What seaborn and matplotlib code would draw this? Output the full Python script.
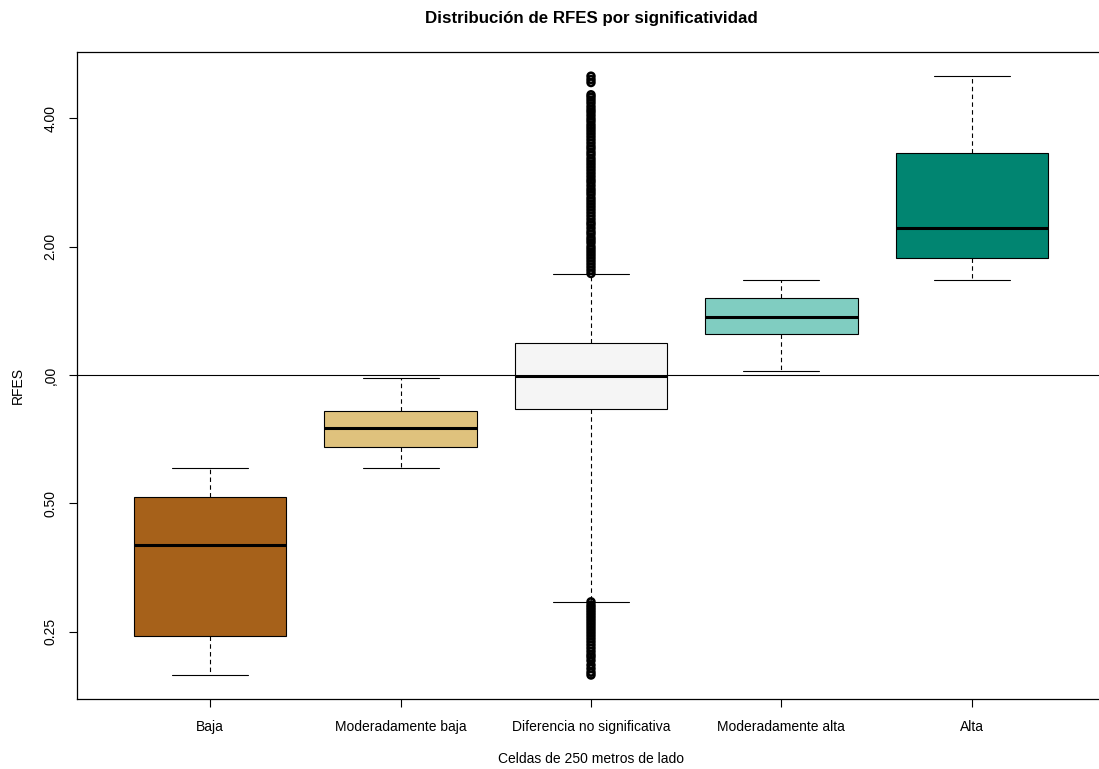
import matplotlib
matplotlib.use("Agg")
import matplotlib.pyplot as plt
import numpy as np
import seaborn as sns

# Box summaries (RFES) per significance class
categories = ["Baja", "Moderadamente baja", "Diferencia no significativa",
              "Moderadamente alta", "Alta"]
whisker_low = [0.198, 0.606, 0.294, 1.020, 1.666]
q1 = [0.245, 0.678, 0.834, 1.248, 1.883]
median = [0.400, 0.750, 0.995, 1.370, 2.217]
q3 = [0.519, 0.822, 1.186, 1.512, 3.312]
whisker_high = [0.606, 0.984, 1.727, 1.666, 5.025]

# Outlying cells of the non-significant class
outliers_high = [1.73, 1.76, 1.79, 1.82, 1.85, 1.88, 1.91, 1.94, 1.97, 2.00,
                 2.04, 2.07, 2.10, 2.14, 2.17, 2.21, 2.25, 2.28, 2.32, 2.36,
                 2.40, 2.44, 2.48, 2.52, 2.56, 2.60, 2.65, 2.69, 2.73, 2.78,
                 2.83, 2.87, 2.92, 2.97, 3.02, 3.07, 3.12, 3.17, 3.22, 3.28,
                 3.33, 3.39, 3.44, 3.50, 3.56, 3.62, 3.68, 3.74, 3.80, 3.86,
                 3.93, 3.99, 4.06, 4.13, 4.19, 4.26, 4.34, 4.41, 4.48, 4.54,
                 4.85, 4.93, 5.02]
outliers_low = [0.294, 0.289, 0.285, 0.281, 0.277, 0.273, 0.269, 0.265,
                0.261, 0.257, 0.253, 0.249, 0.245, 0.241, 0.237, 0.233,
                0.229, 0.225, 0.221, 0.218, 0.214, 0.209, 0.205, 0.201, 0.198]

palette = ["#A6611A", "#DFC27D", "#F5F5F5", "#80CDC1", "#018571"]
tick_values = [0.25, 0.5, 1, 2, 4]
tick_labels = ["0.25", "0.50", ",00", "2.00", "4.00"]

sns.set_style("white")
plt.rcParams["font.family"] = ["Liberation Sans", "DejaVu Sans"]
plt.rcParams["text.color"] = "black"

W, H = 1099, 769
fig = plt.figure(figsize=(W / 100, H / 100), dpi=100)
# plot region; the right edge runs slightly past the canvas
ax = fig.add_axes([77 / W, (H - 699) / H, (1105 - 77) / W, (699 - 52) / H])

positions = np.arange(1, len(categories) + 1)
stats = [dict(med=m, q1=a, q3=b, whislo=lo, whishi=hi, fliers=[])
         for m, a, b, lo, hi in zip(median, q1, q3, whisker_low, whisker_high)]

bp = ax.bxp(stats, positions=positions, widths=0.8, patch_artist=True,
            showfliers=False, capwidths=0.4,
            boxprops=dict(edgecolor="black", linewidth=0.8),
            medianprops=dict(color="black", linewidth=2.2, solid_capstyle="butt"),
            whiskerprops=dict(color="black", linewidth=0.8, linestyle=(0, (4, 3))),
            capprops=dict(color="black", linewidth=0.8))
for patch, col in zip(bp["boxes"], palette):
    patch.set_facecolor(col)

# outliers of the middle class
mid = positions[categories.index("Diferencia no significativa")]
out_vals = outliers_high + outliers_low
ax.scatter(np.full(len(out_vals), mid), out_vals, s=24, facecolors="none",
           edgecolors="black", linewidths=1.9, zorder=3)

# reference line at RFES = 1
ax.axhline(1, color="black", linewidth=0.8, zorder=1)

ax.set_yscale("log", base=2)
all_vals = whisker_low + whisker_high + out_vals
lo, hi = np.log2(min(all_vals)), np.log2(max(all_vals))
pad = 0.04 * (hi - lo)
ax.set_ylim(2 ** (lo - pad), 2 ** (hi + pad))
ax.set_xlim(0.3, len(categories) + 0.7)

ax.set_yticks(tick_values)
ax.set_yticklabels(tick_labels, rotation=90, va="center", fontsize=10)
ax.yaxis.set_minor_locator(matplotlib.ticker.NullLocator())
ax.set_xticks(positions)
ax.set_xticklabels(categories, fontsize=10)
ax.tick_params(axis="both", which="major", direction="out", length=6,
               width=0.8, color="black", labelcolor="black",
               bottom=True, left=True)
ax.tick_params(axis="x", pad=9)
ax.tick_params(axis="y", pad=8)
for s in ax.spines.values():
    s.set_color("black")
    s.set_linewidth(0.9)
ax.grid(False)

fig.text(591 / W, 1 - 18 / H, "Distribución de RFES por significatividad",
         ha="center", va="center", fontsize=12.2, fontweight="bold")
fig.text(591 / W, 1 - 759 / H, "Celdas de 250 metros de lado",
         ha="center", va="center", fontsize=10)
fig.text(18 / W, 1 - 385 / H, "RFES", rotation=90,
         ha="center", va="center", fontsize=10)

fig.savefig("out.png", dpi=100)
